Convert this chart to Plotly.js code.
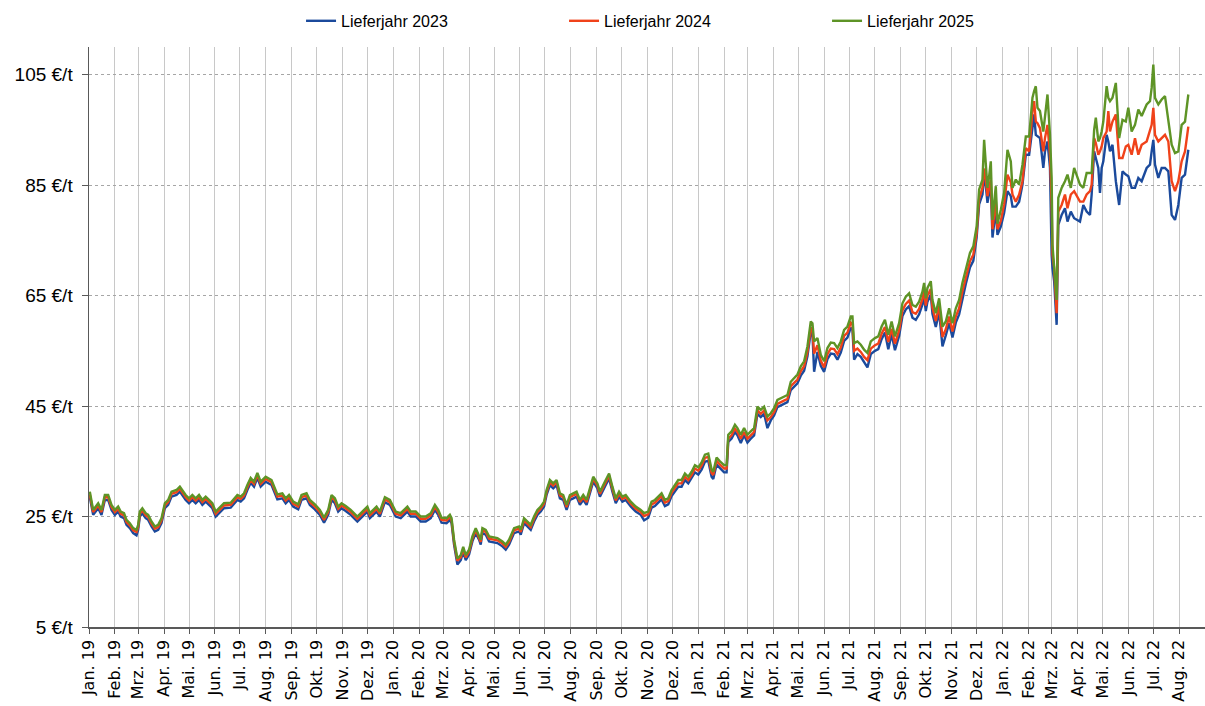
<!DOCTYPE html>
<html><head><meta charset="utf-8">
<script src="https://cdn.plot.ly/plotly-3.0.1.min.js"></script>
<style>html,body{margin:0;padding:0;background:#fff;}#chart{width:1205px;height:706px;}</style>
</head><body><div id="chart"></div>
<script>
const dates = [
'2019-01-02','2019-01-06','2019-01-12','2019-01-16','2019-01-20','2019-01-24','2019-01-28',
'2019-02-01','2019-02-05','2019-02-08','2019-02-12','2019-02-15','2019-02-19','2019-02-23','2019-02-27',
'2019-03-01','2019-03-03','2019-03-06','2019-03-10','2019-03-13','2019-03-17','2019-03-21','2019-03-25','2019-03-29',
'2019-04-02','2019-04-06','2019-04-10','2019-04-16','2019-04-20','2019-04-24','2019-04-27',
'2019-05-01','2019-05-05','2019-05-09','2019-05-13','2019-05-17','2019-05-21','2019-05-25','2019-05-29',
'2019-06-02','2019-06-08','2019-06-12','2019-06-20','2019-06-24','2019-06-28',
'2019-07-02','2019-07-06','2019-07-10','2019-07-14','2019-07-18','2019-07-22','2019-07-26',
'2019-08-01','2019-08-08','2019-08-15','2019-08-21','2019-08-25','2019-08-29',
'2019-09-03','2019-09-09','2019-09-13','2019-09-19','2019-09-23','2019-09-29',
'2019-10-05','2019-10-10','2019-10-15','2019-10-19','2019-10-23','2019-10-27','2019-10-31',
'2019-11-05','2019-11-11','2019-11-19','2019-11-27',
'2019-12-01','2019-12-04','2019-12-12','2019-12-16','2019-12-22','2019-12-28',
'2020-01-04','2020-01-10','2020-01-18','2020-01-22','2020-01-28',
'2020-02-03','2020-02-09','2020-02-15','2020-02-20','2020-02-24','2020-02-28',
'2020-03-05','2020-03-09','2020-03-11','2020-03-14','2020-03-18','2020-03-22','2020-03-25','2020-03-28',
'2020-04-01','2020-04-05','2020-04-09','2020-04-13','2020-04-15','2020-04-17','2020-04-21','2020-04-25',
'2020-05-05','2020-05-11','2020-05-15','2020-05-19','2020-05-25','2020-05-31',
'2020-06-02','2020-06-06','2020-06-10','2020-06-14','2020-06-18','2020-06-22','2020-06-26','2020-06-30',
'2020-07-03','2020-07-07','2020-07-11','2020-07-15','2020-07-19','2020-07-23','2020-07-27','2020-07-31',
'2020-08-04','2020-08-08','2020-08-12','2020-08-16','2020-08-20','2020-08-24','2020-08-28',
'2020-09-02','2020-09-05','2020-09-12','2020-09-16','2020-09-20','2020-09-24','2020-09-28',
'2020-10-02','2020-10-06','2020-10-12','2020-10-18','2020-10-24','2020-10-28',
'2020-11-02','2020-11-06','2020-11-10','2020-11-14','2020-11-18','2020-11-22','2020-11-26','2020-11-30',
'2020-12-04','2020-12-08','2020-12-12','2020-12-16','2020-12-20','2020-12-24','2020-12-28',
'2021-01-01','2021-01-05','2021-01-09','2021-01-13','2021-01-17','2021-01-19','2021-01-23','2021-01-27',
'2021-02-01','2021-02-04','2021-02-06','2021-02-10','2021-02-14','2021-02-17','2021-02-21','2021-02-25',
'2021-03-01','2021-03-05','2021-03-09','2021-03-13','2021-03-17','2021-03-21','2021-03-25','2021-03-29',
'2021-04-02','2021-04-06','2021-04-10','2021-04-14','2021-04-18','2021-04-22','2021-04-26','2021-04-30',
'2021-05-04','2021-05-08','2021-05-12','2021-05-16','2021-05-18','2021-05-20','2021-05-24','2021-05-28',
'2021-06-01','2021-06-05','2021-06-09','2021-06-13','2021-06-17','2021-06-21','2021-06-25','2021-06-29',
'2021-07-03','2021-07-05','2021-07-07','2021-07-11','2021-07-15','2021-07-19','2021-07-23','2021-07-27',
'2021-08-01','2021-08-05','2021-08-09','2021-08-13','2021-08-17','2021-08-21','2021-08-25','2021-08-30',
'2021-09-03','2021-09-07','2021-09-11','2021-09-15','2021-09-19','2021-09-23','2021-09-27','2021-09-29',
'2021-10-01','2021-10-03','2021-10-07','2021-10-09','2021-10-13','2021-10-17','2021-10-21','2021-10-25','2021-10-29',
'2021-11-02','2021-11-06','2021-11-10','2021-11-14','2021-11-18','2021-11-23','2021-11-27',
'2021-12-01','2021-12-04','2021-12-08','2021-12-10','2021-12-12','2021-12-14','2021-12-16','2021-12-18','2021-12-20','2021-12-24','2021-12-26','2021-12-30',
'2022-01-03','2022-01-07','2022-01-11','2022-01-13','2022-01-17','2022-01-21','2022-01-25','2022-01-29',
'2022-02-02','2022-02-06','2022-02-08','2022-02-10','2022-02-12','2022-02-15','2022-02-19','2022-02-21','2022-02-24','2022-02-27',
'2022-03-01','2022-03-02','2022-03-04','2022-03-07','2022-03-09','2022-03-13','2022-03-17','2022-03-20','2022-03-24','2022-03-28',
'2022-04-04','2022-04-08','2022-04-12','2022-04-16','2022-04-18','2022-04-21','2022-04-23','2022-04-26','2022-04-28','2022-04-30',
'2022-05-02','2022-05-06','2022-05-08','2022-05-10','2022-05-13','2022-05-17','2022-05-21','2022-05-25','2022-05-29',
'2022-06-01','2022-06-05','2022-06-09','2022-06-13','2022-06-17','2022-06-23','2022-06-27','2022-06-29',
'2022-07-01','2022-07-03','2022-07-07','2022-07-11','2022-07-15','2022-07-19','2022-07-23','2022-07-27','2022-07-31',
'2022-08-04','2022-08-08','2022-08-12'
];

const lj2023 = [
28.5,25.3,26.5,25.3,28.0,28.0,26.2,
25.3,25.9,25.0,24.7,23.5,22.9,22.0,21.6,
22.6,25.0,25.6,24.7,24.4,23.2,22.3,22.6,23.8,
26.5,27.1,28.6,28.9,29.5,28.6,28.0,
27.4,28.0,27.4,28.0,27.1,27.7,27.1,26.5,
25.0,25.9,26.5,26.6,27.4,28.0,
27.7,28.3,29.8,31.1,30.4,32.0,30.4,
31.3,30.7,28.1,28.3,27.4,28.0,
26.8,26.3,28.0,28.3,27.1,26.3,
25.3,23.9,25.3,28.0,27.4,25.9,26.5,
26.0,25.3,24.1,25.3,
25.9,24.7,25.9,25.0,27.6,27.1,
25.0,24.7,25.9,25.0,25.0,
24.1,24.1,24.7,26.2,25.3,23.9,
23.8,24.4,23.8,19.9,16.3,17.1,18.6,17.1,
18.1,20.5,22.0,20.8,19.9,22.0,21.7,20.5,
20.2,19.6,19.0,19.9,22.0,22.3,
21.7,23.8,23.2,22.6,24.1,25.3,25.9,26.8,
28.9,30.7,30.1,30.7,28.3,28.0,26.2,28.0,
28.3,28.6,27.1,28.0,27.1,29.2,31.3,
30.1,28.6,30.7,31.9,29.5,27.4,28.6,
27.7,28.0,26.8,25.9,25.3,24.3,
24.8,26.6,26.9,27.5,28.1,26.9,27.2,28.7,
29.5,30.4,30.4,31.6,31.0,31.9,33.0,
32.6,33.5,34.9,35.1,32.2,31.8,34.4,33.7,
33.0,33.0,38.5,39.1,40.3,39.7,38.3,39.7,
38.4,39.1,39.7,43.6,43.0,43.6,41.0,42.4,
43.3,44.8,45.1,45.4,45.7,47.9,48.5,49.1,
50.5,51.4,54.0,58.5,58.2,51.2,54.8,52.3,
51.2,53.5,54.5,54.4,53.4,54.7,56.8,57.4,
59.2,58.8,53.4,54.4,53.9,52.9,52.0,54.4,
55.0,55.3,57.1,58.3,55.3,58.0,55.1,57.7,
61.3,62.5,63.1,61.0,60.6,61.6,63.4,64.8,
62.2,63.9,65.2,61.7,59.3,62.0,55.8,57.8,60.0,
57.4,60.1,61.6,64.7,67.1,70.1,71.3,
75.5,81.5,83.3,86.9,84.8,81.8,83.5,85.0,75.5,80.5,76.0,77.5,
80.0,83.9,83.0,81.1,81.1,82.0,85.1,90.5,
90.5,95.6,97.8,94.1,93.8,93.5,88.1,91.1,92.9,88.1,
72.4,70.0,67.6,59.7,77.8,79.6,80.8,78.4,80.2,79.0,
78.4,81.4,80.2,79.6,83.3,91.1,89.9,88.1,83.6,88.1,
89.3,94.1,92.9,91.1,92.3,85.7,81.4,87.5,86.9,
86.6,84.5,84.5,86.3,85.7,88.1,88.7,91.1,
93.2,88.7,86.3,88.1,88.1,87.5,79.6,78.7,81.4,
86.3,86.9,91.4
];

const lj2024 = [
29.0,25.8,27.0,25.8,28.5,28.5,26.7,
25.8,26.4,25.5,25.2,24.0,23.4,22.5,22.2,
23.1,25.5,26.1,25.2,24.9,23.7,22.8,23.1,24.3,
27.0,27.6,29.1,29.4,30.0,29.1,28.5,
27.9,28.5,27.9,28.5,27.6,28.2,27.6,27.0,
25.5,26.4,27.0,27.1,27.9,28.5,
28.2,28.8,30.3,31.6,30.9,32.5,30.9,
31.8,31.2,28.6,28.8,27.9,28.5,
27.3,26.8,28.5,28.8,27.6,26.8,
25.8,24.4,25.8,28.5,27.9,26.4,27.0,
26.5,25.8,24.6,25.8,
26.4,25.2,26.4,25.5,28.1,27.6,
25.5,25.2,26.4,25.5,25.5,
24.6,24.6,25.2,26.7,25.8,24.4,
24.3,24.9,24.3,20.4,17.0,17.6,19.1,17.6,
18.6,21.0,22.5,21.3,20.4,22.5,22.2,21.0,
20.7,20.1,19.5,20.4,22.5,22.8,
22.2,24.3,23.7,23.1,24.6,25.8,26.4,27.3,
29.4,31.2,30.6,31.2,28.8,28.5,26.7,28.5,
28.8,29.1,27.6,28.5,27.6,29.7,31.8,
30.6,29.1,31.2,32.4,30.0,27.9,29.1,
28.2,28.5,27.3,26.4,25.8,25.1,
25.4,27.2,27.5,28.1,28.7,27.5,27.8,29.3,
30.1,31.0,31.0,32.2,31.6,32.5,33.7,
33.3,34.2,35.6,35.8,32.9,32.5,35.1,34.4,
33.7,33.7,39.1,39.7,40.9,40.3,39.1,40.3,
39.1,39.7,40.3,44.2,43.6,44.2,42.4,43.0,
43.9,45.4,45.7,46.0,46.3,48.6,49.2,49.8,
51.3,52.2,54.8,59.2,58.9,54.5,56.0,53.2,
52.0,54.4,55.4,55.3,54.4,55.6,57.7,58.3,
60.1,59.8,55.0,55.4,54.8,53.9,53.3,55.4,
56.0,56.3,58.1,59.3,56.6,59.0,56.3,58.7,
62.3,63.5,64.1,62.0,61.7,62.6,64.4,65.8,
63.2,65.0,66.2,62.8,60.4,63.1,57.5,58.9,61.2,
58.5,61.2,62.7,65.8,68.2,71.2,72.4,
76.3,82.5,84.5,88.0,86.0,83.0,84.5,86.0,77.0,82.0,77.0,78.5,
81.5,86.9,85.5,83.3,82.0,83.3,85.7,91.7,
91.1,98.4,100.2,96.5,96.2,95.3,91.1,93.5,95.9,90.5,
81.4,72.4,70.0,61.8,80.2,81.4,83.3,80.8,83.3,83.9,
82.0,82.0,83.3,83.9,85.1,93.5,92.6,90.5,91.1,92.0,
93.5,94.7,98.4,94.7,96.5,97.8,89.9,89.9,92.0,
92.3,90.5,93.5,90.5,92.3,92.9,94.7,95.9,
99.0,94.1,92.9,93.5,94.1,92.9,85.7,83.9,85.7,
89.3,91.1,95.6
];

const lj2025 = [
29.5,26.2,27.4,26.2,28.9,28.9,27.1,
26.2,26.8,25.9,25.6,24.4,23.8,22.9,22.6,
23.5,25.9,26.5,25.6,25.3,24.1,23.2,23.5,24.7,
27.4,28.0,29.5,29.8,30.4,29.5,28.9,
28.3,28.9,28.3,28.9,28.0,28.6,28.0,27.4,
25.9,26.8,27.4,27.5,28.3,28.9,
28.6,29.2,30.7,32.0,31.3,32.9,31.3,
32.2,31.6,29.0,29.2,28.3,28.9,
27.7,27.2,28.9,29.2,28.0,27.2,
26.2,24.8,26.2,28.9,28.3,26.8,27.4,
26.9,26.2,25.0,26.2,
26.8,25.6,26.8,25.9,28.5,28.0,
25.9,25.6,26.8,25.9,25.9,
25.0,25.0,25.6,27.1,26.2,24.8,
24.7,25.3,24.7,20.8,17.4,18.0,19.5,18.0,
19.0,21.4,22.9,21.7,20.8,22.9,22.6,21.4,
21.1,20.5,19.9,20.8,22.9,23.2,
22.6,24.7,24.1,23.5,25.0,26.2,26.8,27.7,
29.8,31.6,31.0,31.6,29.2,28.9,27.1,28.9,
29.2,29.5,28.0,28.9,28.0,30.1,32.2,
31.0,29.5,31.6,32.8,30.4,28.3,29.5,
28.6,28.9,27.7,26.8,26.2,25.6,
25.9,27.7,28.0,28.6,29.2,28.0,28.3,29.8,
30.6,31.6,31.6,32.8,32.2,33.1,34.3,
33.9,34.8,36.2,36.4,33.5,33.1,35.7,35.0,
34.3,34.3,39.8,40.4,41.6,41.0,39.8,41.0,
39.8,40.4,41.0,44.9,44.3,44.9,43.1,43.7,
44.6,46.1,46.4,46.7,47.0,49.4,50.0,50.7,
52.2,53.1,55.8,60.3,60.0,56.7,57.3,54.3,
53.1,55.5,56.5,56.4,55.5,56.7,58.8,59.4,
61.2,61.2,56.4,56.7,56.1,55.2,54.6,56.7,
57.3,57.6,59.4,60.6,57.9,60.3,57.6,60.0,
63.6,64.8,65.4,63.3,63.0,63.9,65.7,67.3,
64.5,66.4,67.6,64.2,61.8,64.5,59.4,60.3,62.7,
60.0,62.7,64.2,67.3,69.7,72.7,73.9,
77.5,84.2,86.0,93.2,87.8,84.5,86.6,89.3,78.7,84.8,78.0,80.5,
83.6,91.4,89.3,84.5,86.0,85.1,88.7,93.8,
93.8,100.8,102.0,102.9,99.0,98.4,94.7,97.8,101.4,94.1,
86.3,74.2,70.0,64.2,82.7,84.5,85.7,86.9,84.5,88.1,
85.1,84.5,87.2,87.2,87.2,95.0,97.2,92.9,93.5,94.7,
96.5,102.9,100.8,100.2,100.8,103.5,93.5,96.8,96.5,
99.0,94.7,95.9,98.7,97.5,99.6,100.2,102.6,
106.8,100.8,99.6,100.5,101.1,96.8,92.3,90.8,91.1,
95.9,96.5,101.4
];

const seriesNames = ['Lieferjahr 2023','Lieferjahr 2024','Lieferjahr 2025'];
const seriesColors = ['#1b4a9c','#f0421a','#5e9426'];
const monthAbbr = ['Jan.','Feb.','Mrz.','Apr.','Mai.','Jun.','Jul.','Aug.','Sep.','Okt.','Nov.','Dez.'];
const yTicks = [5,25,45,65,85,105];
const yTickText = ['5 €/t','25 €/t','45 €/t','65 €/t','85 €/t','105 €/t'];

const tickvals = [], ticktext = [];
for (let y = 2019; y <= 2022; y++) {
  for (let m = 0; m < 12; m++) {
    if (y === 2022 && m > 7) break;
    tickvals.push(y + '-' + String(m+1).padStart(2,'0') + '-01');
    ticktext.push(monthAbbr[m] + ' ' + String(y).slice(2));
  }
}

const data = [lj2023, lj2024, lj2025].map((vals, i) => ({
  x: dates, y: vals, type: 'scatter', mode: 'lines', name: seriesNames[i],
  line: {color: seriesColors[i], width: 2.4}
}));

const layout = {
  width: 1205, height: 706,
  margin: {l: 89, r: 0, t: 47, b: 79, autoexpand: false},
  paper_bgcolor: '#fff', plot_bgcolor: '#fff',
  showlegend: true,
  legend: {orientation: 'h', x: 0.19, xanchor: 'left', y: 1.045, yanchor: 'middle',
           entrywidth: 218, entrywidthmode: 'pixels',
           font: {family: 'Liberation Sans, sans-serif', size: 16, color: '#000'}},
  xaxis: {
    type: 'date', range: ['2019-01-01','2022-09-01'], automargin: false,
    tickmode: 'array', tickvals: tickvals, ticktext: ticktext, tickangle: -90,
    tickfont: {family: 'DejaVu Sans', size: 16, color: '#000'},
    showgrid: true, gridcolor: '#c8c8c8', gridwidth: 1,
    ticks: 'outside', ticklen: 5, tickcolor: '#595959',
    showline: true, linecolor: '#595959', linewidth: 1.5, zeroline: false
  },
  yaxis: {
    range: [5, 110], tickmode: 'array', tickvals: yTicks, ticktext: yTickText, automargin: false,
    tickfont: {family: 'Liberation Sans, sans-serif', size: 19, color: '#000'},
    ticklabelstandoff: 5,
    showgrid: true, gridcolor: '#a6a6a6', gridwidth: 1, griddash: 'dot',
    ticks: 'outside', ticklen: 6, tickcolor: '#595959',
    showline: true, linecolor: '#595959', linewidth: 1.5, zeroline: false
  },
  hovermode: false
};

Plotly.newPlot('chart', data, layout, {displayModeBar: false, staticPlot: true});
</script></body></html>
